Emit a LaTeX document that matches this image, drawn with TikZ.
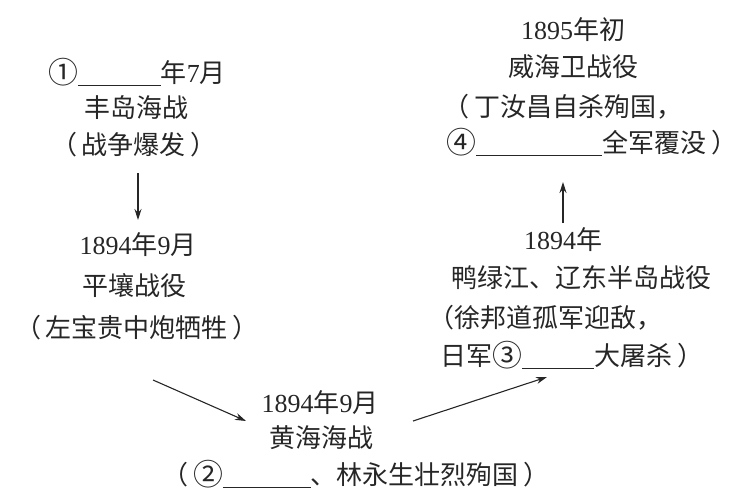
\documentclass[tikz,border=0pt]{standalone}
\usepackage{fontspec}
\setmainfont{Liberation Serif}
\newfontfamily\cjk{Noto Sans CJK SC}
\usetikzlibrary{arrows.meta}
\newcommand\zh[1]{{\cjk #1}}
\newcommand\blank[1]{\rule[-3pt]{#1}{0.8pt}}
\newcommand\circnum[1]{\raisebox{-1pt}{\scalebox{1.15}{\zh{#1}}}}
\newcommand\lpar{\zh{（}\hspace{5pt}}
\newcommand\rpar{\hspace{5pt}\zh{）}}
\tikzset{
  lbl/.style={inner sep=0pt, font=\fontsize{26}{30}\selectfont, text=black!85},
  arr/.style={line width=1.1pt, black!85, -{Stealth[length=11pt,width=7pt]}}
}
\begin{document}
\begin{tikzpicture}[x=1pt,y=-1pt]
\useasboundingbox (0,0) rectangle (749,501);
% top-left
\node[lbl] (a1) at (137,72) {\circnum{①}\blank{83pt}\zh{年}7\zh{月}};
\node[lbl] (a2) at (136,108) {\zh{丰岛海战}};
\node[lbl] (a3) at (134,145) {\lpar\zh{战争爆发}\rpar};
% middle-left
\node[lbl] (b1) at (138,245) {1894\zh{年}9\zh{月}};
\node[lbl] (b2) at (134,286) {\zh{平壤战役}};
\node[lbl] (b3) at (137,328) {\lpar\zh{左宝贵中炮牺牲}\rpar};
% bottom
\node[lbl] (c1) at (320,403) {1894\zh{年}9\zh{月}};
\node[lbl] (c2) at (321,438) {\zh{黄海海战}};
\node[lbl] (c3) at (356,474) {\lpar\circnum{②}\blank{88pt}\zh{、林永生壮烈殉国}\rpar};
% right-middle
\node[lbl] (d1) at (563,240) {1894\zh{年}};
\node[lbl] (d2) at (581,278) {\zh{鸭绿江、辽东半岛战役}};
\node[lbl,anchor=west] (d3) at (428,318) {\zh{（徐邦道孤军迎敌，}};
\node[lbl,anchor=west] (d4) at (440,355) {\zh{日军}\circnum{③}\blank{72pt}\zh{大屠杀}\rpar};
% top-right
\node[lbl] (e1) at (573,30) {1895\zh{年初}};
\node[lbl] (e2) at (573,67) {\zh{威海卫战役}};
\node[lbl,anchor=west] (e3) at (443,107) {\lpar\zh{丁汝昌自杀殉国，}};
\node[lbl,anchor=west] (e4) at (446,142) {\circnum{④}\blank{126pt}\zh{全军覆没}\rpar};
% connectors
\coordinate (p1) at (138,173);
\coordinate (q1) at (138,220);
\coordinate (p2) at (153,380);
\coordinate (q2) at (246,421);
\coordinate (p3) at (413,421);
\coordinate (q3) at (547,377);
\coordinate (p4) at (563,223);
\coordinate (q4) at (563,182);
\draw[arr] (p1) -- (q1);
\draw[arr] (p2) -- (q2);
\draw[arr] (p3) -- (q3);
\draw[arr] (p4) -- (q4);
\end{tikzpicture}
\end{document}
